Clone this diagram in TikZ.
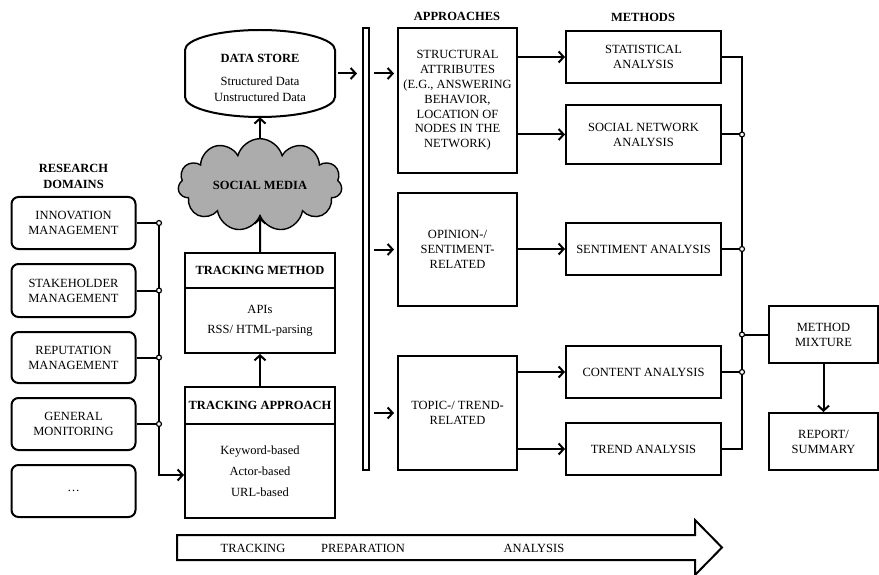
\documentclass[tikz,border=0pt]{standalone}
\usepackage{fontspec}
\setmainfont{Liberation Serif}
\usetikzlibrary{arrows.meta,shapes.symbols}

\begin{document}
\begin{tikzpicture}[x=1pt,y=-1pt,>={Straight Barb[length=5pt,width=11pt]},
  every node/.style={font=\fontsize{12.5}{15}\selectfont,align=center},
  line/.style={line width=2pt},
  arr/.style={line width=2pt,->},
  dombox/.style={draw,line width=2pt,rounded corners=7pt,minimum width=124pt,inner sep=1pt},
  tbox/.style={draw,line width=2pt,minimum width=150pt,inner sep=1pt},
  apbox/.style={draw,line width=2pt,minimum width=119pt,inner sep=1pt},
  mbox/.style={draw,line width=2pt,minimum width=155pt,inner sep=1pt},
  rbox/.style={draw,line width=2pt,minimum width=109pt,minimum height=57pt,inner sep=1pt},
  head/.style={font=\fontsize{12.5}{16}\selectfont\bfseries},
  dot/.style={circle,draw,fill=white,line width=1.2pt,inner sep=0pt,minimum size=5pt}]
\useasboundingbox (0,0) rectangle (879,575);

% research domains
\node[head] (domhead) at (73.5,176) {RESEARCH\\DOMAINS};
\node[dombox,minimum height=52pt] (innov) at (73.5,223) {INNOVATION\\MANAGEMENT};
\node[dombox,minimum height=53pt] (stake) at (73.5,290.5) {STAKEHOLDER\\MANAGEMENT};
\node[dombox,minimum height=51pt] (reput) at (73.5,357.5) {REPUTATION\\MANAGEMENT};
\node[dombox,minimum height=52pt] (gener) at (73.5,424) {GENERAL\\MONITORING};
\node[dombox,minimum height=52pt] (more) at (73.5,491) {\dots};

% tracking
\node[tbox,minimum height=35pt] (methtitle) at (260,270.5) {\textbf{TRACKING METHOD}};
\node[tbox,minimum height=65pt,font=\fontsize{12.5}{20}\selectfont] (methbody) at (260,320.5) {APIs\\RSS/ HTML-parsing};
\node[tbox,minimum height=37pt] (apptitle) at (260,405.5) {\textbf{TRACKING APPROACH}};
\node[tbox,minimum height=94pt,font=\fontsize{12.5}{21}\selectfont] (appbody) at (260,471) {Keyword-based\\Actor-based\\URL-based};

\coordinate (busl) at (159,475);
\draw[arr] (innov.east -| busl) -- (busl) -- (busl -| appbody.west);
\foreach \d/\j in {innov/1,stake/2,reput/3,gener/4}
  \draw[line] (\d.east) -- (\d.east -| busl) node[dot] (jl\j) {};

\node[cloud,cloud puffs=11,aspect=2,draw,line width=1.4pt,fill=gray!65,
  minimum width=164pt,minimum height=84pt,inner sep=0pt] (media) at (260,185) {\textbf{SOCIAL MEDIA}};

% data store
\node[minimum width=150pt,minimum height=87pt,inner sep=0pt] (store) at (260,73.5) {};
\draw[line] (185,50) .. controls (185,39) and (219,30) .. (260,30)
  .. controls (301,30) and (335,39) .. (335,50) -- (335,97)
  .. controls (335,108) and (301,117) .. (260,117)
  .. controls (219,117) and (185,108) .. (185,97) -- cycle;
\node[font=\fontsize{12.5}{16}\selectfont] (storetext) at (260,78) {\textbf{DATA STORE}\\[7pt]Structured Data\\Unstructured Data};

\draw[arr] (apptitle.north) -- (methbody.south);
\draw[arr] (methtitle.north) -- (media.south);
\draw[arr] (media.north) -- (store.south);

% preparation bar
\node[draw,line width=2pt,minimum width=6pt,minimum height=442pt,inner sep=0pt] (bar) at (366,249) {};
\draw[arr,shorten <=3pt,shorten >=5pt] (store.east) -- (bar.west |- store.east);

% approaches
\node[head] (aphead) at (457,16) {APPROACHES};
\node[apbox,minimum height=145pt,font=\fontsize{12.5}{14.8}\selectfont] (struct) at (457.5,100.5)
  {STRUCTURAL\\ATTRIBUTES\\(E.G., ANSWERING\\BEHAVIOR,\\LOCATION OF\\NODES IN THE\\NETWORK)};
\node[apbox,minimum height=113pt] (opin) at (457.5,249.5) {OPINION-/\\SENTIMENT-\\RELATED};
\node[apbox,minimum height=114pt] (topic) at (457.5,413) {TOPIC-/ TREND-\\RELATED};

\draw[arr,shorten <=4pt,shorten >=3pt] (bar.east |- store.east) -- (struct.west |- store.east);
\draw[arr,shorten <=4pt,shorten >=3pt] (bar.east |- opin.west) -- (opin.west);
\draw[arr,shorten <=4pt,shorten >=3pt] (bar.east |- topic.west) -- (topic.west);

% methods
\node[head] (mhead) at (643,17) {METHODS};
\node[mbox,minimum height=52pt] (stat) at (643.5,57) {STATISTICAL\\ANALYSIS};
\node[mbox,minimum height=59pt] (sna) at (643.5,134.5) {SOCIAL NETWORK\\ANALYSIS};
\node[mbox,minimum height=52pt] (sent) at (643.5,249) {SENTIMENT ANALYSIS};
\node[mbox,minimum height=52pt] (cont) at (643.5,372) {CONTENT ANALYSIS};
\node[mbox,minimum height=52pt] (trend) at (643.5,449) {TREND ANALYSIS};

\draw[arr] (struct.east |- stat.west) -- (stat.west);
\draw[arr] (struct.east |- sna.west) -- (sna.west);
\draw[arr] (opin.east |- sent.west) -- (sent.west);
\draw[arr] (topic.east |- cont.west) -- (cont.west);
\draw[arr] (topic.east |- trend.west) -- (trend.west);

% mixture
\node[rbox] (mix) at (823.5,334.5) {METHOD\\MIXTURE};
\node[rbox] (report) at (823.5,441.5) {REPORT/\\SUMMARY};

\coordinate (busr) at (742,0);
\draw[line] (stat.east) -- (stat.east -| busr) -- (trend.east -| busr) -- (trend.east);
\draw[line] (sna.east) -- (sna.east -| busr) node[dot] (jr1) {};
\draw[line] (sent.east) -- (sent.east -| busr) node[dot] (jr2) {};
\draw[line] (cont.east) -- (cont.east -| busr) node[dot] (jr3) {};
\draw[line] (mix.west) -- (mix.west -| busr) node[dot] (jr4) {};
\draw[arr] (mix.south) -- (report.north);

% phases
\draw[line] (177,535) -- (695,535) -- (695,520) -- (722,547.5) -- (695,575) -- (695,560) -- (177,560) -- cycle;
\node (phtrack) at (253,548) {TRACKING};
\node (phprep) at (363,548) {PREPARATION};
\node (phana) at (534,548) {ANALYSIS};
\end{tikzpicture}
\end{document}
